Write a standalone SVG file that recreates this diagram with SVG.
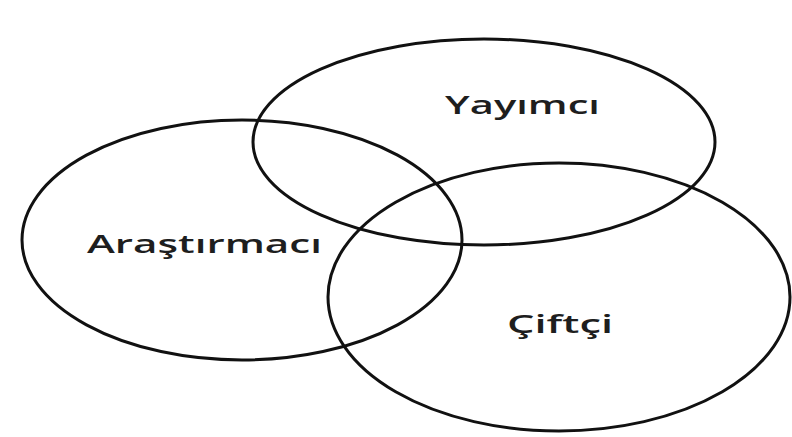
<svg xmlns="http://www.w3.org/2000/svg" width="792" height="437" viewBox="0 0 792 437">
<style>
.c{fill:none;stroke:#111;stroke-width:3}
.t{font-family:"Open Sans","Liberation Sans",sans-serif;font-size:25px;font-weight:600;fill:#1e1e1e}
</style>
<rect width="792" height="437" fill="#fff"/>
<g id="yayimci"><ellipse class="c" cx="484" cy="142" rx="231" ry="103"/><text class="t" x="445" y="114" textLength="155" lengthAdjust="spacingAndGlyphs">Yayımcı</text></g>
<g id="arastirmaci"><ellipse class="c" cx="242" cy="240" rx="220" ry="120"/><text class="t" x="87" y="253" textLength="235" lengthAdjust="spacingAndGlyphs">Araştırmacı</text></g>
<g id="ciftci"><ellipse class="c" cx="559" cy="297" rx="231" ry="134"/><text class="t" x="507" y="333" textLength="106" lengthAdjust="spacingAndGlyphs">Çiftçi</text></g>
</svg>
